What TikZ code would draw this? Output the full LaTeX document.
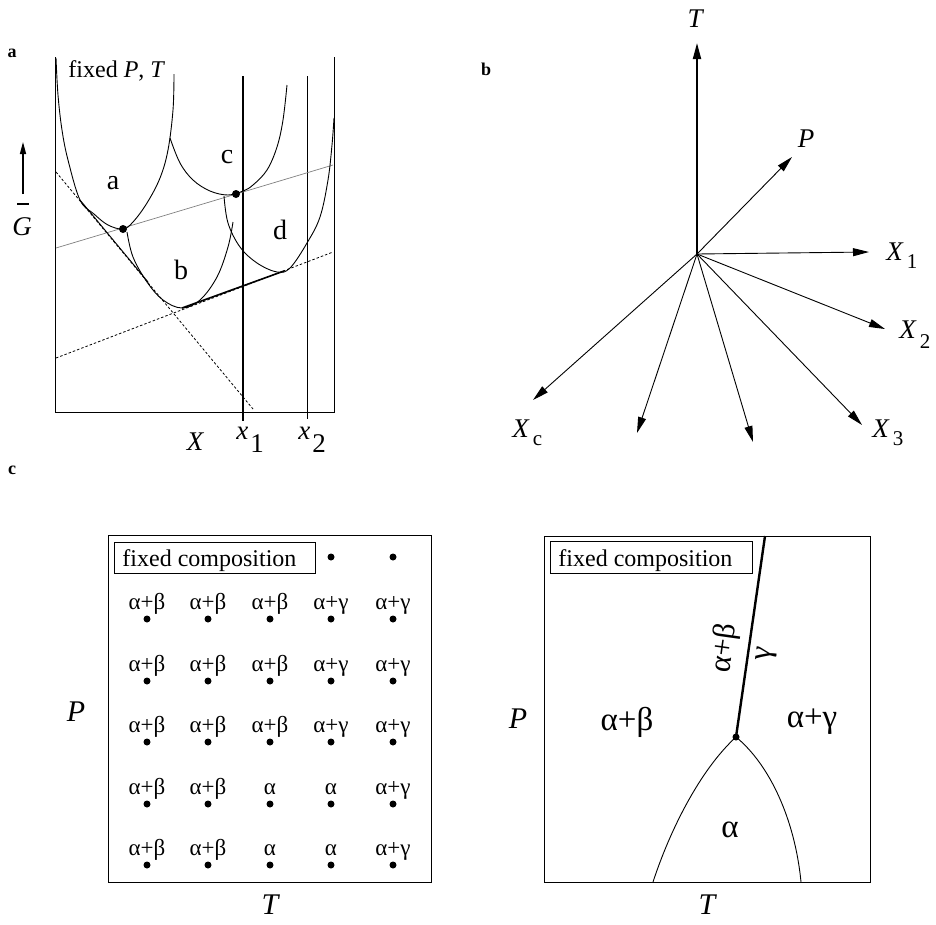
\documentclass[tikz,border=0pt]{standalone}
\usepackage{fontspec}
\setmainfont{Liberation Serif}
\usetikzlibrary{arrows.meta}
\begin{document}
\begin{tikzpicture}[x=1pt,y=-1pt,line width=0.9pt,
  lab/.style={font=\fontsize{28}{32}\selectfont,inner sep=0pt},
  itl/.style={font=\fontsize{27}{30}\selectfont\itshape,inner sep=0pt},
  itlc/.style={font=\fontsize{30}{34}\selectfont\itshape,inner sep=0pt},
  grk/.style={font=\fontsize{23}{26}\selectfont,inner sep=0pt},
  bgrk/.style={font=\fontsize{33}{38}\selectfont,inner sep=0pt},
  rgrk/.style={font=\fontsize{31}{36}\selectfont,inner sep=0pt},
  fc/.style={font=\fontsize{24}{28}\selectfont,inner sep=0pt},
  dotn/.style={circle,fill,inner sep=0pt,minimum size=8pt},
  arr/.style={-{Triangle[length=16pt,width=8pt]},line width=0.9pt},
  panel/.style={font=\fontsize{18}{20}\selectfont\bfseries,inner sep=0pt},
  dott/.style={dash pattern=on 2.5pt off 2pt,line width=0.8pt}]
\useasboundingbox (0,0) rectangle (936,924);

%% ---------------- panel a ----------------
\node[panel] (pa) at (12,53) {a};
\draw (55,57) -- (55,412) -- (334,412) -- (334,57);
\node[fc,anchor=base west] (fpt) at (68,77) {fixed \textit{P}, \textit{T}};
\draw[line width=2pt] (243,76) -- (243,421);
\draw (307,76) -- (307,419);
\draw[-{Triangle[length=12pt,width=6pt]},line width=1.4pt] (23,194) -- (23,142);
\draw[line width=1.2pt] (17,204) -- (29,204);
\node[itl,anchor=base] (G) at (22,235) {G};
% gray tie line
\draw[gray,line width=0.7pt] (56,248) -- (333,165);
% dotted tangents
\draw[dott] (56,172) -- (253,409);
\draw[dott] (56,358) -- (333,252);
% curve a
\draw plot[smooth,tension=0.6] coordinates {(56,58) (58,95) (62,130) (68,160) (80,200) (94,214) (108,225) (123,229) (133,222) (147,203) (160,178) (168,150) (173,110) (174,74)};
% curve c
\draw plot[smooth,tension=0.6] coordinates {(170,138) (180,163) (193,180) (210,191) (228,195) (243,191) (253,185) (267,170) (277,147) (283,120) (287,85)};
% curve b
\draw plot[smooth,tension=0.6] coordinates {(127,232) (133,257) (147,282) (163,300) (182,308) (200,300) (217,277) (228,247) (233,222)};
% curve d
\draw plot[smooth,tension=0.6] coordinates {(224,196) (228,223) (240,247) (257,263) (277,272) (290,268) (307,243) (320,217) (328,180) (332,145) (334,118)};
% common tangents
\draw (80,200) -- (148,282);
\draw[line width=1.6pt] (182,308) -- (284,271);
\node[dotn] (da) at (123,229) {};
\node[dotn] (dc) at (236,194) {};
\node[lab,anchor=base] (la) at (113,189) {a};
\node[lab,anchor=base] (lb) at (181,279) {b};
\node[lab,anchor=base] (lc) at (227,163) {c};
\node[lab,anchor=base] (ld) at (280,239) {d};
\node[itl,anchor=base] (X) at (195,450) {X};
\node[itl,anchor=base west] (x1) at (236,439) {x\hspace{2pt}\raisebox{-13pt}{\upshape 1}};
\node[itl,anchor=base west] (x2) at (298,439) {x\hspace{2pt}\raisebox{-13pt}{\upshape 2}};

%% ---------------- panel b ----------------
\node[panel] (pb) at (486,69) {b};
\coordinate (O) at (697,254);
\coordinate (eT) at (697,43);
\coordinate (eP) at (792,157);
\coordinate (eX1) at (869,252);
\coordinate (eX2) at (885,329);
\coordinate (eX3) at (862,425);
\coordinate (e1) at (753,442);
\coordinate (e2) at (637,433);
\coordinate (eXc) at (533,400);
\draw[arr,line width=1.8pt] (O) -- (eT);
\foreach \e in {eP,eX1,eX2,eX3,e1,e2,eXc} \draw[arr] (O) -- (\e);
\node[itl,anchor=base] (lT) at (695,27) {T};
\node[itl,anchor=base] (lP) at (806,147) {P};
\node[itl,anchor=base west] (lX1) at (886,260) {X\hspace{4pt}\raisebox{-8pt}{\upshape\fontsize{21}{24}\selectfont 1}};
\node[itl,anchor=base west] (lX2) at (899,338) {X\hspace{4pt}\raisebox{-10pt}{\upshape\fontsize{21}{24}\selectfont 2}};
\node[itl,anchor=base west] (lX3) at (872,437) {X\hspace{4pt}\raisebox{-8pt}{\upshape\fontsize{21}{24}\selectfont 3}};
\node[itl,anchor=base west] (lXc) at (512,437) {X\hspace{4pt}\raisebox{-8pt}{\upshape\fontsize{21}{24}\selectfont c}};

%% ---------------- panel c left ----------------
\node[panel] (pc) at (12,470) {c};
\draw (108,535) rectangle (431,882);
\draw (114,542) rectangle (315,573);
\node[fc,anchor=base west] (fc1) at (122,566) {fixed composition};
\node[dotn,minimum size=7pt] (t4) at (331,557) {};
\node[dotn,minimum size=7pt] (t5) at (393,557) {};
\foreach \y/\la/\lb/\lc/\ld/\le [count=\r] in {
  619/α+β/α+β/α+β/α+γ/α+γ,
  681/α+β/α+β/α+β/α+γ/α+γ,
  742/α+β/α+β/α+β/α+γ/α+γ,
  804/α+β/α+β/α/α/α+γ,
  865/α+β/α+β/α/α/α+γ} {
  \foreach \x/\t [count=\c] in {147/\la,208/\lb,270/\lc,331/\ld,393/\le} {
    \node[dotn,minimum size=7pt] (d\r\c) at (\x,\y) {};
    \node[grk,anchor=base] (g\r\c) at (\x,\y-10) {\t};
  }
}
\node[itlc,anchor=base] (Pl) at (76,721) {P};
\node[itlc,anchor=base] (Tl) at (270,914) {T};

%% ---------------- panel c right ----------------
\draw (544,536) rectangle (870,882);
\draw (550,541) rectangle (752,573);
\node[fc,anchor=base west] (fc2) at (558,566) {fixed composition};
\node[dotn,minimum size=7pt] (tp) at (736,737) {};
\coordinate (top) at (765,536);
\coordinate (bl) at (653,882);
\coordinate (br) at (801,882);
\draw[line width=2.4pt] (tp.center) -- (top);
\draw (tp.center) .. controls (700,770) and (670,830) .. (bl);
\draw (tp.center) .. controls (770,765) and (795,820) .. (br);
\node[bgrk] (ab) at (627,722) {α+β};
\node[bgrk] (ag) at (812,722) {α+γ};
\node[bgrk] (al) at (730,830) {α};
\node[rgrk,rotate=82] (rab) at (725,648) {α+β};
\node[rgrk,rotate=82] (rg) at (767,654) {γ};
\node[itlc,anchor=base] (Pr) at (518,728) {P};
\node[itlc,anchor=base] (Tr) at (707,914) {T};
\end{tikzpicture}
\end{document}
